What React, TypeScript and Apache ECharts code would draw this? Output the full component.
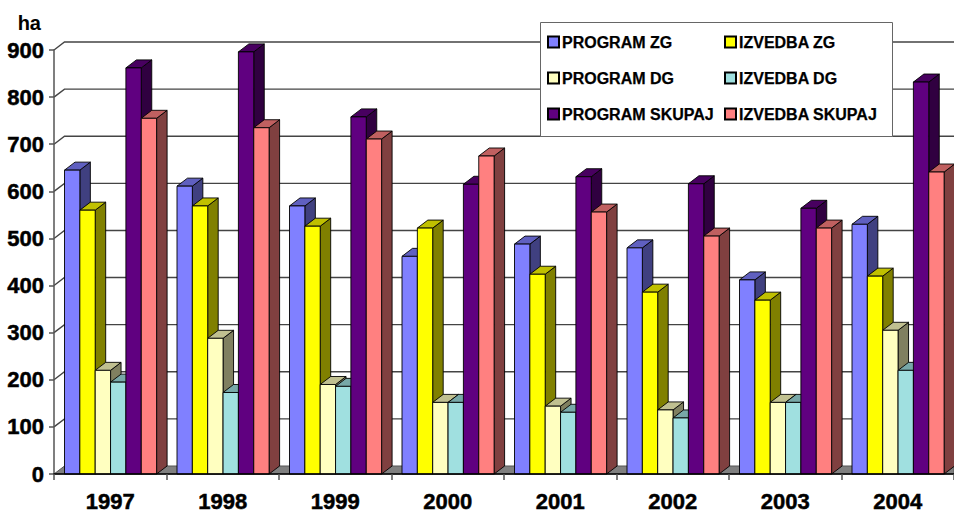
import React, { useEffect, useRef } from "react";
import * as echarts from "echarts";

const years = ["1997", "1998", "1999", "2000", "2001", "2002", "2003", "2004"];
const programZG = [645, 611, 569, 462, 488, 480, 412, 530];
const izvedbaZG = [560, 569, 526, 522, 424, 386, 369, 420];
const programDG = [220, 288, 190, 152, 144, 136, 152, 305];
const izvedbaDG = [195, 173, 186, 152, 131, 119, 152, 220];
const programSK = [862, 896, 758, 615, 631, 616, 564, 832];
const izvedbaSK = [755, 735, 711, 675, 556, 505, 522, 641];
const yTicks = [0, 100, 200, 300, 400, 500, 600, 700, 800, 900];

const seriesDefs = [
  { name: "PROGRAM ZG", values: programZG, front: "#8080ff", top: "#6060c0", side: "#404080" },
  { name: "IZVEDBA ZG", values: izvedbaZG, front: "#ffff00", top: "#c0c000", side: "#808000" },
  { name: "PROGRAM DG", values: programDG, front: "#ffffc0", top: "#c0c090", side: "#808060" },
  { name: "IZVEDBA DG", values: izvedbaDG, front: "#a0e0e0", top: "#78a8a8", side: "#507070" },
  { name: "PROGRAM SKUPAJ", values: programSK, front: "#600080", top: "#480060", side: "#300040" },
  { name: "IZVEDBA SKUPAJ", values: izvedbaSK, front: "#ff8080", top: "#c06060", side: "#804040" },
];

const DX = 10.5;
const DY = 8;
const BAR_W = 15.35;
const FONT = "'Liberation Sans', Arial, sans-serif";

export default function App() {
  const ref = useRef<HTMLDivElement>(null);
  useEffect(() => {
    document.body.style.margin = "0";
    const chart = echarts.init(ref.current!, undefined, { renderer: "svg" });

    const barSeries = seriesDefs.map((s, si) => ({
      type: "custom" as const,
      name: s.name,
      z: 3,
      itemStyle: { color: s.front, borderColor: "#000", borderWidth: 1 },
      encode: { x: 0, y: 1 },
      data: s.values.map((v, i) => [i, v]),
      renderItem: (_p: any, api: any) => {
        const c = api.coord([api.value(0), api.value(1)]);
        const base = api.coord([api.value(0), 0]);
        const band = api.size([1, 0])[0];
        const l = c[0] - band / 2 + DX + si * BAR_W;
        const r = l + BAR_W;
        const y = c[1];
        const b = base[1];
        const line = { stroke: "#000", lineWidth: 0.9 };
        return {
          type: "group",
          children: [
            {
              type: "polygon",
              shape: { points: [[r, y], [r + DX, y - DY], [r + DX, b - DY], [r, b]] },
              style: { fill: s.side, ...line },
            },
            {
              type: "polygon",
              shape: { points: [[l, y], [l + DX, y - DY], [r + DX, y - DY], [r, y]] },
              style: { fill: s.top, ...line },
            },
            {
              type: "rect",
              shape: { x: l, y, width: BAR_W, height: b - y },
              style: { fill: s.front, ...line },
            },
          ],
        };
      },
    }));

    const wallSeries = {
      type: "custom" as const,
      name: "wall",
      z: 1,
      silent: true,
      encode: { y: 0 },
      data: yTicks.map((v) => [v]),
      renderItem: (p: any, api: any) => {
        const y = api.coord([0, api.value(0)])[1];
        const x0 = p.coordSys.x;
        const x1 = x0 + p.coordSys.width;
        if (api.value(0) === 0) {
          return {
            type: "polygon",
            shape: { points: [[x0, y], [x0 + DX, y - DY], [x1, y - DY], [x1, y]] },
            style: { fill: "#808080", stroke: "#555", lineWidth: 1 },
          };
        }
        return {
          type: "polyline",
          shape: { points: [[x0, y], [x0 + DX, y - DY], [x1, y - DY]] },
          style: { fill: "none", stroke: "#444", lineWidth: 1.4 },
        };
      },
    };

    const legendBase = {
      orient: "vertical" as const,
      top: 33,
      itemWidth: 11,
      itemHeight: 11,
      itemGap: 18,
      icon: "rect",
      selectedMode: false,
      z: 11,
      padding: 0,
      textStyle: {
        fontFamily: FONT,
        fontWeight: "bold" as const,
        fontSize: 16,
        color: "#000",
        lineHeight: 18,
        padding: [0, 0, 0, -2],
        textBorderColor: "#000",
        textBorderWidth: 0.25,
      },
    };
    const axisText = {
      fontFamily: FONT,
      fontWeight: "bold",
      fontSize: 22,
      color: "#000",
      textBorderColor: "#000",
      textBorderWidth: 0.5,
    };

    chart.setOption({
      animation: false,
      backgroundColor: "#fff",
      grid: { left: 54, right: 0, top: 50, bottom: 38, outerBoundsMode: "none" },
      xAxis: {
        type: "category",
        data: years,
        z: 5,
        axisLine: { lineStyle: { color: "#000", width: 1.5 } },
        axisTick: { show: true, length: 6, lineStyle: { color: "#555", width: 1.5 } },
        axisLabel: { ...axisText, lineHeight: 20, margin: 17, interval: 0 },
        splitLine: { show: false },
      },
      yAxis: {
        type: "value",
        min: 0,
        max: 900,
        interval: 100,
        name: "ha",
        nameLocation: "end",
        nameGap: 17,
        nameTextStyle: { fontFamily: FONT, fontWeight: "bold", fontSize: 20, color: "#000", align: "right", padding: [0, 13, 0, 0] },
        z: 4,
        axisLine: { show: true, lineStyle: { color: "#555", width: 1.5 } },
        axisTick: { show: true, length: 5, lineStyle: { color: "#555", width: 1.5 } },
        axisLabel: { ...axisText, margin: 10 },
        splitLine: { show: false },
      },
      legend: [
        { ...legendBase, left: 547, data: [seriesDefs[0].name, seriesDefs[2].name, seriesDefs[4].name] },
        { ...legendBase, left: 724, data: [seriesDefs[1].name, seriesDefs[3].name, seriesDefs[5].name] },
      ],
      graphic: {
        elements: [
          {
            type: "rect",
            z: 10,
            shape: { x: 540.5, y: 22.5, width: 352, height: 114 },
            style: { fill: "#fff", stroke: "#666", lineWidth: 1 },
          },
        ],
      },
      series: [wallSeries, ...barSeries],
    });
    return () => chart.dispose();
  }, []);
  return <div ref={ref} style={{ width: 954, height: 512 }} />;
}
